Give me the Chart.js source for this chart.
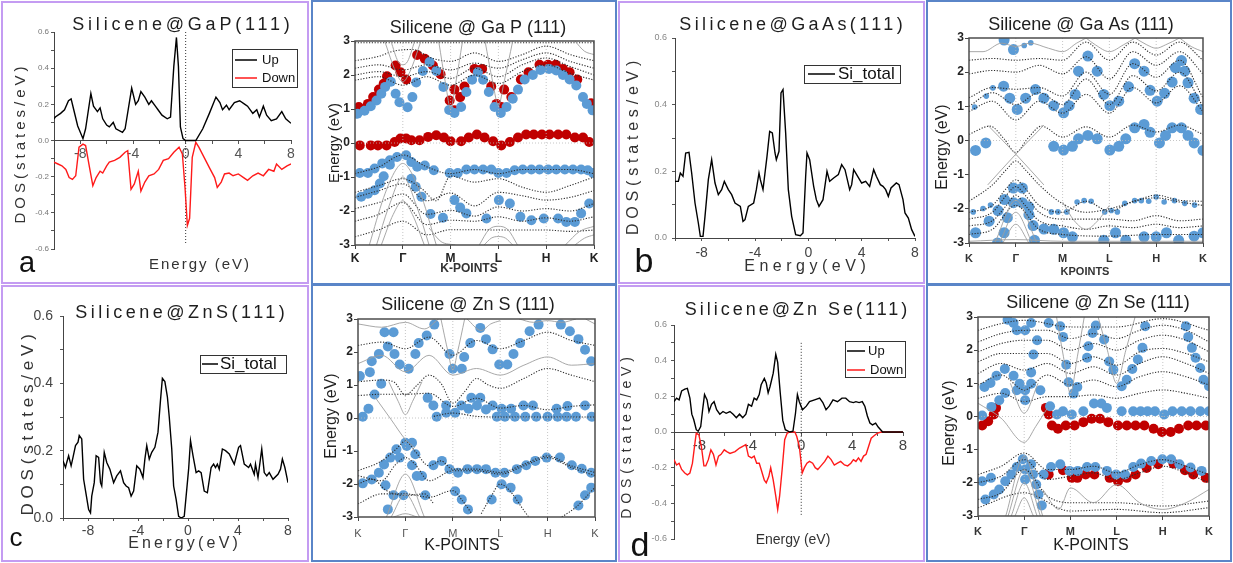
<!DOCTYPE html>
<html>
<head>
<meta charset="utf-8">
<title>Silicene DOS and band structures</title>
<script src="https://cdn.jsdelivr.net/npm/chart.js@4.4.1/dist/chart.umd.min.js"></script>
<style>
  html, body { margin: 0; padding: 0; background: #fff; }
  body { position: relative; width: 1233px; height: 563px; overflow: hidden; }
  .pan { position: absolute; box-sizing: border-box; border: 2px solid #c49cf2; }
  .pan.blu { border-color: #5a85c8; }
  canvas { position: absolute; }
</style>
</head>
<body>
<script>
const FONT = '"Liberation Sans", Arial, Helvetica, sans-serif';
const BLUE = '#5b9bd5', RED = '#c00000';
const kLabels = ['K', 'Γ', 'M', 'L', 'H', 'K'];
const symK = [1, 2, 3, 4];

// ---- DOS curves [energy, states/eV] ----
const gapUp = [[-10,0.12],[-9.9,0.13],[-9.5,0.15],[-9.2,0.17],[-8.9,0.22],[-8.7,0.23],[-8.5,0.17],[-8.2,0.08],[-7.8,0.01],[-7.6,0.065],[-7.2,0.26],[-7.0,0.19],[-6.7,0.16],[-6.5,0.18],[-6.3,0.12],[-6.0,0.085],[-5.8,0.075],[-5.5,0.10],[-5.3,0.065],[-4.8,0.045],[-4.6,0.065],[-4.1,0.29],[-3.8,0.20],[-3.6,0.22],[-3.4,0.27],[-3.1,0.24],[-2.8,0.20],[-2.6,0.22],[-2.3,0.19],[-2.1,0.17],[-1.8,0.14],[-1.4,0.12],[-1.15,0.13],[-0.9,0.41],[-0.7,0.57],[-0.55,0.41],[-0.4,0.075],[-0.2,0.01],[0,0],[0.77,0],[1.3,0.065],[1.8,0.15],[2.3,0.24],[2.6,0.21],[2.8,0.17],[3.1,0.195],[3.3,0.17],[3.7,0.21],[4.1,0.22],[4.5,0.20],[4.7,0.19],[5.1,0.15],[5.4,0.17],[5.6,0.13],[5.9,0.19],[6.15,0.14],[6.5,0.11],[6.9,0.12],[7.3,0.16],[7.6,0.12],[8.0,0.095]];
const gapDown = [[-10,-0.12],[-9.7,-0.13],[-9.4,-0.14],[-9.1,-0.16],[-8.85,-0.205],[-8.6,-0.215],[-8.35,-0.195],[-8.1,-0.037],[-7.8,-0.02],[-7.6,-0.028],[-7.3,-0.15],[-7.05,-0.25],[-6.8,-0.205],[-6.5,-0.17],[-6.3,-0.18],[-6.0,-0.14],[-5.8,-0.12],[-5.4,-0.11],[-5.0,-0.093],[-4.6,-0.065],[-4.4,-0.056],[-4.15,-0.27],[-3.9,-0.24],[-3.6,-0.17],[-3.4,-0.28],[-3.1,-0.23],[-2.8,-0.195],[-2.4,-0.185],[-2.05,-0.16],[-1.7,-0.11],[-1.3,-0.10],[-0.9,-0.065],[-0.5,-0.037],[-0.25,-0.075],[-0.05,-0.26],[0.13,-0.47],[0.3,-0.43],[0.5,-0.093],[0.77,-0.01],[1.0,-0.037],[1.4,-0.093],[1.8,-0.15],[2.2,-0.205],[2.4,-0.26],[2.7,-0.23],[2.95,-0.185],[3.3,-0.18],[3.6,-0.195],[4.0,-0.185],[4.4,-0.205],[4.7,-0.22],[5.1,-0.195],[5.5,-0.18],[5.9,-0.195],[6.3,-0.16],[6.7,-0.17],[6.9,-0.13],[7.3,-0.16],[7.7,-0.14],[8.0,-0.13]];
const gapFermi = [[0,0.6],[0,-0.57]];

const gasTotal = [[-10,0.17],[-9.75,0.17],[-9.6,0.195],[-9.4,0.185],[-9.2,0.255],[-8.95,0.257],[-8.75,0.195],[-8.5,0.105],[-8.25,0.045],[-8.1,0.005],[-7.9,0.005],[-7.75,0.065],[-7.5,0.175],[-7.25,0.235],[-7.0,0.165],[-6.75,0.13],[-6.5,0.145],[-6.3,0.17],[-6.0,0.145],[-5.75,0.13],[-5.5,0.105],[-5.1,0.095],[-4.9,0.05],[-4.75,0.055],[-4.5,0.095],[-4.1,0.105],[-3.9,0.145],[-3.7,0.195],[-3.6,0.175],[-3.4,0.145],[-3.1,0.245],[-2.9,0.32],[-2.7,0.315],[-2.5,0.255],[-2.4,0.235],[-2.2,0.26],[-2.05,0.435],[-1.9,0.445],[-1.7,0.315],[-1.5,0.145],[-1.25,0.065],[-0.95,0.01],[-0.6,0.007],[-0.4,0.015],[-0.2,0.185],[-0.1,0.255],[0.1,0.235],[0.4,0.155],[0.6,0.115],[0.8,0.095],[1.1,0.115],[1.4,0.2],[1.6,0.17],[1.9,0.18],[2.25,0.19],[2.5,0.22],[2.75,0.205],[3.1,0.145],[3.25,0.16],[3.4,0.205],[3.7,0.185],[4.0,0.165],[4.3,0.17],[4.6,0.155],[4.9,0.205],[5.1,0.185],[5.4,0.16],[5.6,0.155],[5.8,0.145],[6.0,0.125],[6.2,0.15],[6.6,0.165],[6.8,0.16],[7.1,0.115],[7.25,0.075],[7.5,0.06],[7.75,0.025],[8.0,0.005]];

const znsTotal = [[-10,0.17],[-9.8,0.15],[-9.7,0.165],[-9.55,0.185],[-9.35,0.155],[-9.2,0.18],[-9.0,0.215],[-8.8,0.225],[-8.7,0.245],[-8.5,0.235],[-8.35,0.115],[-8.15,0.07],[-7.95,0.025],[-7.8,0.015],[-7.7,0.065],[-7.5,0.105],[-7.35,0.185],[-7.15,0.18],[-7.0,0.105],[-6.9,0.095],[-6.7,0.195],[-6.5,0.165],[-6.25,0.145],[-5.95,0.105],[-5.7,0.125],[-5.4,0.14],[-5.15,0.105],[-4.95,0.095],[-4.75,0.09],[-4.55,0.065],[-4.35,0.08],[-4.1,0.155],[-3.85,0.145],[-3.6,0.12],[-3.45,0.175],[-3.3,0.215],[-3.1,0.175],[-2.9,0.195],[-2.65,0.21],[-2.4,0.255],[-2.2,0.35],[-2.05,0.415],[-1.85,0.405],[-1.65,0.36],[-1.5,0.30],[-1.3,0.205],[-1.15,0.095],[-0.95,0.055],[-0.75,0.005],[-0.55,0.0],[-0.3,0.005],[-0.1,0.085],[0.05,0.145],[0.2,0.23],[0.4,0.185],[0.65,0.135],[0.85,0.14],[1.05,0.135],[1.3,0.08],[1.55,0.075],[1.85,0.15],[2.05,0.16],[2.2,0.15],[2.35,0.16],[2.5,0.145],[2.75,0.205],[3.0,0.20],[3.3,0.19],[3.5,0.175],[3.7,0.16],[4.05,0.21],[4.2,0.215],[4.5,0.16],[4.85,0.15],[5.0,0.16],[5.3,0.13],[5.4,0.16],[5.6,0.12],[5.9,0.205],[6.1,0.135],[6.3,0.125],[6.5,0.135],[6.8,0.115],[7.2,0.13],[7.4,0.145],[7.55,0.175],[7.75,0.15],[8.0,0.105]];

const zseUp = [[-10,0.17],[-9.8,0.19],[-9.6,0.18],[-9.4,0.23],[-9.15,0.24],[-8.95,0.245],[-8.75,0.19],[-8.6,0.10],[-8.45,0.07],[-8.25,0.013],[-8.1,0.004],[-7.9,0.03],[-7.75,0.125],[-7.6,0.21],[-7.4,0.18],[-7.25,0.115],[-7.05,0.155],[-6.85,0.17],[-6.65,0.125],[-6.4,0.10],[-6.15,0.115],[-5.9,0.105],[-5.6,0.115],[-5.35,0.10],[-5.1,0.08],[-4.85,0.10],[-4.6,0.08],[-4.35,0.10],[-4.15,0.155],[-3.9,0.145],[-3.7,0.19],[-3.5,0.18],[-3.3,0.21],[-3.15,0.265],[-2.9,0.30],[-2.75,0.275],[-2.6,0.22],[-2.45,0.255],[-2.2,0.33],[-2.0,0.435],[-1.85,0.39],[-1.65,0.22],[-1.45,0.065],[-1.25,0.013],[-0.9,0],[-0.65,0.004],[-0.45,0.105],[-0.3,0.21],[-0.15,0.17],[0.1,0.125],[0.4,0.145],[0.65,0.17],[1.05,0.18],[1.45,0.19],[1.7,0.165],[1.95,0.125],[2.2,0.145],[2.5,0.18],[2.85,0.17],[3.2,0.19],[3.5,0.19],[3.8,0.17],[4.1,0.165],[4.3,0.17],[4.55,0.165],[4.8,0.17],[5.0,0.145],[5.2,0.09],[5.4,0.05],[5.6,0.04],[5.85,0.05],[6.05,0.028],[6.4,0],[8.0,0]];
const zseDown = [[-10,-0.155],[-9.8,-0.185],[-9.6,-0.175],[-9.4,-0.21],[-9.15,-0.23],[-8.95,-0.24],[-8.75,-0.23],[-8.55,-0.175],[-8.35,-0.06],[-8.25,-0.006],[-8.05,-0.015],[-7.85,-0.08],[-7.65,-0.19],[-7.5,-0.19],[-7.3,-0.155],[-7.1,-0.10],[-6.9,-0.125],[-6.7,-0.185],[-6.5,-0.135],[-6.3,-0.125],[-6.05,-0.10],[-5.85,-0.11],[-5.6,-0.12],[-5.2,-0.11],[-4.85,-0.09],[-4.6,-0.08],[-4.35,-0.07],[-4.15,-0.135],[-3.9,-0.145],[-3.7,-0.135],[-3.5,-0.175],[-3.3,-0.175],[-3.15,-0.21],[-2.9,-0.27],[-2.75,-0.285],[-2.55,-0.25],[-2.4,-0.20],[-2.2,-0.27],[-2.0,-0.36],[-1.85,-0.435],[-1.7,-0.36],[-1.5,-0.21],[-1.3,-0.043],[-1.1,-0.006],[-0.9,0],[-0.5,0],[-0.35,-0.025],[-0.15,-0.08],[0.08,-0.23],[0.25,-0.20],[0.45,-0.175],[0.65,-0.165],[0.9,-0.175],[1.1,-0.20],[1.3,-0.21],[1.55,-0.19],[1.85,-0.165],[2.1,-0.135],[2.35,-0.155],[2.6,-0.185],[2.85,-0.175],[3.1,-0.165],[3.4,-0.185],[3.65,-0.19],[3.9,-0.175],[4.1,-0.155],[4.3,-0.165],[4.5,-0.145],[4.7,-0.165],[4.9,-0.135],[5.1,-0.125],[5.3,-0.08],[5.5,-0.035],[5.75,-0.02],[6.0,-0.006],[6.3,0],[8.0,0]];
const zseFermi = [[0,0.5],[0,-0.47]];

// ---- band structures [k-path position, energy eV] ----
const gapGray = [
  [[0.3,-3],[0.6,-1.6],[0.85,-0.8],[1,-0.6],[1.15,-0.8],[1.4,-1.6],[1.7,-3]],
  [[0.45,-3],[0.7,-1.9],[1,-1.0],[1.3,-1.9],[1.55,-3]],
  [[0.55,-3],[0.8,-2.1],[1,-1.7],[1.2,-2.1],[1.45,-3]],
  [[0.62,3],[0.85,2.1],[1,1.8],[1.15,2.1],[1.38,3]],
  [[0.75,3],[0.9,2.4],[1,2.3],[1.1,2.4],[1.25,3]],
  [[1.75,3],[1.9,1.7],[2,1.0],[2.1,1.7],[2.25,3]],
  [[2.72,3],[2.88,1.8],[3,1.1],[3.12,1.8],[3.3,3]],
  [[4.6,3],[4.8,2.7],[5,2.6]],
  [[1.55,-2.5],[1.8,-2.9],[2.1,-3]],
  [[2.6,-3],[2.8,-2.55],[3,-2.45],[3.2,-2.55],[3.4,-3]],
  [[2.7,-3],[2.85,-2.8],[3,-2.75],[3.15,-2.8],[3.3,-3]],
  [[4.4,-3],[4.7,-2.6],[5,-2.45]],
  [[4.6,-3],[4.8,-2.8],[5,-2.7]]
];
const gapDot = [
  [[0,2.95],[1,2.95],[2,2.95],[3,2.95],[4,2.95],[5,2.95]],
  [[0,2.42],[0.5,2.55],[0.8,2.7],[1.2,2.75],[1.6,2.5],[2,2.4],[2.5,2.65],[3,2.4],[3.5,2.6],[4,2.85],[4.5,2.6],[5,2.42]],
  [[0,2.2],[0.5,2.3],[1,2.15],[1.5,2.3],[2,2.15],[2.5,2.35],[3,2.2],[3.5,2.45],[4,2.65],[4.5,2.4],[5,2.2]],
  [[0,2.0],[0.5,2.1],[1,1.95],[1.5,2.1],[2,1.9],[2.5,2.2],[3,1.95],[3.5,2.3],[4,2.5],[4.5,2.25],[5,2.0]],
  [[0,1.85],[0.5,1.95],[1,1.7],[1.5,1.95],[2,1.7],[2.5,2.0],[3,1.75],[3.5,2.1],[4,2.3],[4.5,2.05],[5,1.85]],
  [[0,-0.9],[0.5,-0.7],[1,-0.35],[1.5,-0.7],[2,-0.9],[2.5,-0.78],[3,-0.9],[3.5,-0.78],[4,-0.78],[4.5,-0.78],[5,-0.9]],
  [[0,-1.45],[0.5,-1.25],[1,-1.05],[1.4,-1.35],[1.7,-1.7],[2,-0.97],[2.5,-1.15],[3,-1.05],[3.5,-1.3],[4,-1.45],[4.5,-1.25],[5,-1.0]],
  [[0,-1.6],[0.5,-1.4],[1,-1.2],[1.5,-1.7],[2,-1.47],[2.5,-1.85],[3,-1.45],[3.5,-1.55],[4,-1.68],[4.5,-1.6],[5,-1.4]],
  [[0,-1.93],[0.5,-1.75],[1,-1.5],[1.5,-2.1],[2,-1.98],[2.5,-2.15],[3,-1.88],[3.5,-2.0],[4,-1.93],[4.5,-2.0],[5,-1.78]],
  [[0,-2.3],[0.5,-2.1],[1,-1.75],[1.5,-2.4],[2,-2.27],[2.5,-2.3],[3,-2.17],[3.5,-2.3],[4,-2.2],[4.5,-2.3],[5,-2.17]],
  [[0,-2.76],[0.5,-2.55],[1,-2.3],[1.5,-2.7],[2,-2.55],[2.5,-2.55],[3,-2.56],[3.5,-2.56],[4,-2.56],[4.5,-2.6],[5,-2.56]]
];
const gapBlue = [[0.05,0.86],[0.2,0.95],[0.33,1.08],[0.45,1.25],[0.55,1.45],[0.63,1.65],[0.75,1.8],[0.85,1.45],[0.93,1.2],[1.1,1.05],[1.2,1.35],[1.28,1.78],[1.42,2.12],[1.56,2.38],[1.7,2.12],[1.85,1.65],[1.97,0.97],[2.08,0.88],[2.22,1.06],[2.33,1.5],[2.45,1.86],[2.57,2.08],[2.68,1.86],[2.8,1.5],[2.92,1.06],[3.05,0.88],[3.17,1.06],[3.3,1.3],[3.41,1.57],[3.55,1.87],[3.72,2.0],[3.88,2.15],[4.06,2.18],[4.21,2.13],[4.35,2.0],[4.49,1.87],[4.63,1.69],[4.77,1.35],[4.85,1.15],[4.97,0.96],
  [0.1,-0.88],[0.27,-0.88],[0.41,-0.75],[0.57,-0.6],[0.73,-0.51],[0.88,-0.41],[1.07,-0.36],[1.18,-0.56],[1.3,-0.7],[1.46,-0.66],[1.65,-0.8],[1.98,-0.88],[2.15,-0.88],[2.33,-0.78],[2.5,-0.78],[2.68,-0.78],[2.85,-0.78],[3.0,-0.88],[3.17,-0.88],[3.34,-0.8],[3.51,-0.78],[3.69,-0.78],[3.86,-0.78],[4.04,-0.78],[4.21,-0.78],[4.39,-0.78],[4.56,-0.78],[4.73,-0.78],[4.87,-0.8],[4.98,-0.88],
  [0.13,-1.58],[0.27,-1.49],[0.41,-1.39],[0.52,-1.19],[0.6,-0.98],[0.73,-0.64],[1.18,-1.05],[1.27,-1.29],[1.39,-1.58],[1.58,-2.09],[1.84,-2.2],[2.08,-1.68],[2.2,-1.9],[2.33,-2.07],[2.75,-2.22],[3.01,-1.68],[3.24,-1.78],[3.46,-2.17],[3.69,-2.27],[3.95,-2.22],[4.25,-2.22],[4.42,-2.32],[4.6,-2.32],[4.73,-2.07],[4.9,-1.78]];
const gapRed = [[0.08,1.06],[0.27,1.15],[0.38,1.35],[0.5,1.57],[0.6,1.74],[0.67,1.96],[0.85,2.28],[0.95,2.08],[1.07,1.87],[1.3,2.59],[1.46,2.48],[1.63,2.28],[1.79,2.02],[1.98,1.25],[2.08,0.96],[2.08,1.57],[2.2,1.35],[2.29,1.66],[2.5,2.18],[2.66,2.18],[2.85,1.66],[2.96,1.15],[3.06,1.06],[3.12,1.57],[3.27,1.35],[3.47,1.87],[3.63,2.08],[3.86,2.3],[4.04,2.3],[4.2,2.3],[4.35,2.18],[4.49,2.08],[4.65,1.87],[4.94,1.17],
  [0.1,-0.07],[0.33,-0.07],[0.48,-0.07],[0.66,-0.07],[0.83,0.03],[0.95,0.13],[1.07,0.13],[1.18,0.08],[1.35,0.08],[1.53,0.18],[1.7,0.23],[1.86,0.16],[2.0,0.05],[2.22,0.05],[2.38,0.16],[2.55,0.25],[2.71,0.16],[2.89,0.05],[3.06,-0.07],[3.24,0.03],[3.41,0.16],[3.58,0.25],[3.74,0.25],[3.91,0.25],[4.07,0.25],[4.25,0.25],[4.42,0.25],[4.6,0.16],[4.77,0.16],[4.9,0.03]];

const gasGray = [
  [[0.4,0.45],[1,-0.4],[1.6,-1.3]],
  [[0.4,-1.3],[1,-0.4],[1.6,0.45]],
  [[0.55,-3],[1,-1.75],[1.45,-3]],
  [[0.65,-3],[1,-2.1],[1.35,-3]],
  [[0.72,-3],[1,-2.45],[1.28,-3]],
  [[0,2.6],[0.3,2.6],[0.7,2.85],[1,2.75],[1.3,2.85],[1.7,2.7],[2,2.6],[2.3,2.85],[2.5,3.0]],
  [[2.5,3],[2.7,2.8],[3,2.6],[3.3,2.8],[3.55,3.0]],
  [[3.55,3],[3.8,2.8],[4,2.7],[4.2,2.8],[4.5,3]],
  [[4.5,3],[4.75,2.75],[5,2.6]],
  [[2,-1.8],[2.25,-2.35],[2.5,-2.6],[2.75,-2.35],[3,-1.9]],
  [[0,-2.95],[1,-2.9],[2,-2.95],[3,-2.95],[4,-2.95],[5,-2.95]]
];
const gasDot = [
  [[0,0.18],[0.45,0.42],[0.75,0.05],[1,-0.35],[1.25,0.05],[1.55,0.42],[2,0.1],[2.5,0.4],[3,0.1],[3.5,0.45],[4,0.25],[4.5,0.45],[5,0.18]],
  [[0,0.85],[0.5,1.15],[1,0.6],[1.5,1.15],[2,0.8],[2.5,1.35],[3,0.8],[3.5,1.55],[4,1.1],[4.5,1.6],[5,0.85]],
  [[0,1.0],[0.5,1.4],[1,1.05],[1.5,1.4],[2,1.05],[2.5,1.8],[3,1.05],[3.5,1.9],[4,1.45],[4.5,2.0],[5,1.0]],
  [[0,1.25],[0.5,1.55],[1,1.5],[1.5,1.55],[2,1.3],[2.5,2.0],[3,1.35],[3.5,2.25],[4,1.85],[4.5,2.35],[5,1.25]],
  [[0,1.95],[0.5,2.05],[1,2.0],[1.5,2.2],[2,1.95],[2.5,2.45],[3,1.8],[3.5,2.6],[4,2.2],[4.5,2.6],[5,1.95]],
  [[0,2.35],[0.5,2.4],[1,2.35],[1.5,2.4],[2,2.35],[2.5,2.88],[3,2.35],[3.5,2.88],[4,2.5],[4.5,2.88],[5,2.35]],
  [[0,-1.78],[0.5,-1.3],[0.8,-0.85],[1,-0.6],[1.2,-0.85],[1.5,-1.3],[2,-1.85],[2.5,-2.1],[3,-2.0],[3.5,-1.8],[4,-1.6],[4.5,-1.75],[5,-1.78]],
  [[0,-2.1],[0.5,-1.9],[0.8,-1.4],[1,-1.15],[1.2,-1.4],[1.5,-1.9],[2,-2.1],[2.5,-1.78],[3,-2.07],[3.5,-1.78],[4,-1.68],[4.5,-1.8],[5,-1.9]],
  [[0,-2.3],[0.5,-2.1],[0.8,-1.6],[1,-1.35],[1.2,-1.6],[1.5,-2.1],[2,-2.3],[2.5,-2.3],[3,-2.3],[3.5,-2.35],[4,-2.2],[4.5,-2.35],[5,-2.3]],
  [[0,-2.5],[0.5,-2.35],[0.8,-1.9],[1,-1.6],[1.2,-1.9],[1.5,-2.35],[2,-2.5],[2.5,-2.6],[3,-2.5],[3.5,-2.55],[4,-2.45],[4.5,-2.55],[5,-2.5]],
  [[0,-2.75],[0.5,-2.6],[1,-1.9],[1.5,-2.6],[2,-2.75],[3,-2.8],[4,-2.75],[5,-2.75]]
];
const gasBlue = [[0.14,-0.29],[0.36,-0.07],[0.74,1.59],[0.87,1.24],[1.03,0.91],[1.21,1.24],[1.42,1.49],[1.6,1.24],[1.81,1.02],[2.02,0.81],[2.14,1.02],[2.27,1.35],[2.34,2.03],[2.54,2.47],[2.74,2.03],[2.88,1.35],[3.01,1.02],[3.2,1.15],[3.41,1.57],[3.54,2.25],[3.74,2.03],[3.87,1.47],[4.02,1.15],[4.18,1.38],[4.34,1.71],[4.41,2.13],[4.54,2.34],[4.61,2.03],[4.68,1.69],[4.81,1.24],[4.95,0.91],
  [1.81,-0.17],[2.02,-0.28],[2.21,-0.17],[2.34,0.05],[2.54,0.15],[2.74,0.05],[3.01,-0.28],[3.2,-0.17],[3.35,0.05],[3.54,0.37],[3.74,0.47],[3.87,0.24],[4.07,-0.07],[4.2,0.15],[4.34,0.37],[4.54,0.37],[4.68,0.15],[4.81,-0.07],[5.0,-0.29],
  [0.95,-1.39],[1.14,-1.39],[0.76,-1.73],[0.95,-1.82],[1.14,-1.82],[1.28,-1.94],[0.62,-2.05],[0.82,-2.26],[1.28,-2.17],[0.43,-2.36],[1.37,-2.49],[0.14,-2.7],[0.75,-2.7],[0.61,-3.0],[1.4,-2.92],[1.6,-2.59],[1.81,-2.6],[2.02,-2.7],[2.21,-2.82],[2.88,-2.92],[3.13,-2.7],[3.35,-2.92],[3.74,-2.82],[4.0,-2.82],[4.22,-2.7],[4.48,-2.92],[4.81,-2.8],[5.0,-2.7],
  [0.95,2.66],[0.75,2.94]];
const gasBlueSmall = [[0.12,0.98],[0.37,1.3],[0.51,1.54],[1.18,2.78],[1.32,2.86],[0.09,-2.09],[0.3,-1.99],[0.46,-1.89],[1.76,-2.09],[1.9,-2.09],[2.09,-2.09],[2.31,-1.8],[2.46,-1.76],[2.61,-1.78],[2.9,-2.09],[3.04,-2.05],[3.17,-2.09],[3.33,-1.84],[3.54,-1.76],[3.68,-1.76],[3.84,-1.78],[4.0,-1.65],[4.17,-1.8],[4.39,-1.76],[4.61,-1.84],[4.82,-1.89]];

const znsGray = [
  [[0.35,0.65],[0.7,-0.05],[1,-0.65],[1.2,-0.9]],
  [[0.65,1.1],[0.85,0.5],[1,0.1],[1.15,0.5],[1.35,1.1]],
  [[0,1.65],[0.5,1.9],[1,1.4],[1.5,1.9],[2,1.3],[2.5,1.5],[3,1.3],[3.5,1.6],[4,1.85],[4.5,1.6],[5,1.65]],
  [[0,2.85],[0.5,2.75],[1,2.9],[1.4,2.7],[1.7,3]],
  [[2.3,3],[2.6,2.65],[2.8,2.85],[3,2.95]],
  [[3.4,3],[3.7,2.9],[4,2.95],[4.3,2.9],[4.6,3]],
  [[4.8,3],[5,2.85]],
  [[1.75,3],[1.9,2.0],[2,1.45],[2.1,2.0],[2.25,3]],
  [[0.6,-3],[1,-1.7],[1.4,-3]],
  [[0.7,-3],[1,-2.3],[1.3,-3]],
  [[0.75,-3],[1,-2.9],[1.25,-3]]
];
const znsDot = [
  [[0,1.1],[0.5,1.15],[0.75,1.1],[1,0.7],[1.25,1.0],[1.5,1.3],[1.75,1.05],[2,0.45],[2.25,0.8],[2.5,1.2],[2.75,1.0],[3,0.9],[3.5,1.2],[4,1.5],[4.5,1.3],[5,1.1]],
  [[0,0.68],[0.5,0.72],[1,0.72],[1.5,0.75],[2,0.35],[2.5,0.6],[3,0.3],[3.5,0.38],[4,0.25],[4.5,0.35],[5,0.4]],
  [[1.6,0.05],[2,0.15],[2.5,0.05],[3,0.03],[3.5,0.03],[4,0.03],[4.5,0.03],[5,0.03]],
  [[0,2.2],[0.5,2.3],[1,2.1],[1.5,2.45],[2,1.9],[2.5,2.35],[3,2.1],[3.5,2.35],[4,2.6],[4.5,2.35],[5,2.2]],
  [[0,-1.6],[0.5,-1.3],[0.8,-0.95],[1,-0.7],[1.2,-1.0],[1.5,-1.45],[1.75,-1.3],[2,-1.55],[2.5,-1.55],[3,-1.65],[3.5,-1.4],[4,-1.15],[4.5,-1.45],[5,-1.65]],
  [[0,-1.75],[0.5,-1.9],[0.8,-1.4],[1,-1.2],[1.2,-1.4],[1.5,-1.9],[2,-1.6],[2.5,-1.6],[3,-1.7],[3.5,-1.45],[4,-1.2],[4.5,-1.5],[5,-1.75]],
  [[0,-2.6],[0.5,-2.3],[1,-2.3],[1.5,-2.4],[2,-2.2],[2.2,-2.5],[2.4,-2.9]],
  [[2.6,-2.9],[2.8,-2.4],[3,-2.0],[3.2,-2.2],[3.45,-2.7],[3.6,-3]],
  [[4.3,-3],[4.6,-2.7],[5,-2.1]],
  [[0,-2.0],[0.3,-1.85],[0.6,-2.2],[1,-2.35],[1.4,-2.3],[1.6,-2.6]]
];
const znsBlue = [[0.04,1.27],[0.25,1.39],[0.29,1.72],[0.44,1.94],[0.56,2.6],[0.63,2.17],[0.75,2.6],[0.77,1.94],[0.88,1.62],[1.07,1.49],[1.21,1.94],[1.28,2.27],[1.45,2.5],[1.61,2.83],[1.93,1.94],[2.0,1.49],[2.19,1.49],[2.24,1.85],[2.37,2.27],[2.58,2.73],[2.7,2.39],[2.84,2.08],[2.98,1.62],[3.15,1.62],[3.28,1.94],[3.42,2.27],[3.62,2.63],[3.81,2.83],[4.28,2.83],[4.47,2.63],[4.65,2.39],[4.79,2.07],[4.92,1.72],
  [0.1,0.04],[0.22,0.28],[0.35,0.71],[0.49,1.04],[1.47,0.61],[1.59,0.38],[1.66,0.04],[1.86,0.38],[1.86,0.16],[2.05,0.16],[2.18,0.38],[2.33,0.28],[2.39,0.61],[2.51,0.38],[2.58,0.61],[2.7,0.26],[2.84,0.38],[2.93,0.04],[3.03,0.28],[3.1,0.04],[3.23,0.28],[3.31,0.04],[3.49,0.38],[3.53,0.04],[3.69,0.38],[3.76,0.04],[4.0,0.04],[4.19,0.28],[4.21,0.04],[4.4,0.04],[4.42,0.36],[4.6,0.04],[4.79,0.38],[4.93,0.04],
  [0.1,-1.98],[0.29,-1.86],[0.44,-1.66],[0.55,-1.41],[0.68,-1.2],[0.81,-0.95],[0.88,-1.2],[1.0,-0.75],[1.03,-0.85],[1.14,-0.75],[1.21,-1.1],[1.14,-1.43],[1.24,-1.76],[1.35,-1.76],[1.59,-1.43],[1.77,-1.3],[1.93,-1.55],[2.11,-1.66],[2.31,-1.55],[2.51,-1.55],[2.7,-1.55],[2.9,-1.66],[3.09,-1.66],[3.35,-1.55],[3.55,-1.43],[3.74,-1.3],[3.98,-1.2],[4.26,-1.2],[4.51,-1.43],[4.72,-1.54],[4.92,-1.66],
  [0.58,-2.04],[0.75,-2.34],[0.96,-2.34],[0.63,-2.77],[1.42,-2.34],[2.05,-2.22],[2.19,-2.47],[2.32,-2.77],[2.82,-2.47],[3.03,-2.01],[3.22,-2.11],[3.37,-2.47],[4.65,-2.65],[4.79,-2.34],[4.92,-2.11]];

const zseGray = [
  [[0,0.4],[0.5,-0.05],[1,-0.78],[1.25,-0.3],[1.5,0.25]],
  [[0.7,1.0],[1,0.1],[1.3,1.0]],
  [[0.6,-3],[1,-1.2],[1.4,-3]],
  [[0.65,-3],[1,-1.6],[1.35,-3]],
  [[0.72,-3],[1,-2.0],[1.28,-3]],
  [[0.8,-3],[1,-2.45],[1.2,-3]],
  [[1.4,-2.2],[1.75,-2.8],[2,-2.15],[2.5,-2.6],[3,-2.05],[3.5,-2.6],[4,-2.8],[4.5,-2.6],[5,-2.2]],
  [[1.7,3],[1.85,1.8],[2,0.7],[2.15,1.8],[2.3,3]],
  [[2.6,3],[2.8,2.0],[3,1.0],[3.2,2.0],[3.4,3]]
];
const zseDot = [
  [[0,0.55],[0.5,0.7],[1,0.45],[1.5,0.6],[2,0.6],[2.5,0.65],[3,0.55],[3.5,0.7],[4,0.8],[4.5,0.7],[5,0.55]],
  [[0,0.95],[0.5,1.25],[1,0.8],[1.5,1.25],[2,0.95],[2.5,1.1],[3,0.9],[3.5,1.2],[4,1.35],[4.5,1.2],[5,0.95]],
  [[0,1.3],[0.5,1.6],[1,1.4],[1.5,1.6],[2,1.3],[2.5,1.5],[3,1.25],[3.5,1.6],[4,1.8],[4.5,1.6],[5,1.3]],
  [[0,1.65],[0.5,1.9],[1,1.9],[1.5,1.9],[2,1.6],[2.5,1.8],[3,1.55],[3.5,1.95],[4,2.05],[4.5,1.9],[5,1.65]],
  [[0,1.95],[0.5,2.2],[1,2.3],[1.5,2.3],[2,2.0],[2.5,2.2],[3,2.0],[3.5,2.3],[4,2.45],[4.5,2.3],[5,1.95]],
  [[0,2.25],[0.5,2.5],[1,2.6],[1.5,2.6],[2,2.35],[2.5,2.5],[3,2.35],[3.5,2.6],[4,2.75],[4.5,2.6],[5,2.25]],
  [[0,2.6],[0.5,2.8],[1,2.9],[2,2.7],[3,2.7],[4,2.95],[5,2.6]],
  [[0,-1.75],[0.5,-1.5],[1,-1.1],[1.5,-1.6],[2,-1.6],[2.5,-1.5],[3,-1.7],[3.5,-1.45],[4,-1.3],[4.5,-1.5],[5,-1.75]],
  [[0,-2.0],[0.5,-1.8],[1,-1.3],[1.5,-1.9],[2,-1.8],[2.5,-1.7],[3,-1.9],[3.5,-1.7],[4,-1.5],[4.5,-1.7],[5,-2.0]],
  [[0,-2.5],[0.5,-2.3],[1,-1.6],[1.5,-2.4],[2,-2.6],[3,-2.6],[4,-2.7],[5,-2.55]],
  [[0,-2.75],[1,-2.3],[2,-2.85],[3,-2.8],[4,-2.9],[5,-2.75]]
];
const zseBlue = [[0.09,0.03],[0.14,0.89],[0.27,1.01],[0.29,0.29],[0.4,1.23],[0.46,0.49],[0.58,1.43],[0.59,0.71],[0.64,2.92],[0.77,1.23],[0.77,2.82],[0.84,2.6],[0.9,0.99],[0.84,0.79],[1.02,2.6],[1.02,0.49],[1.02,0.79],[1.15,2.82],[1.15,0.99],[1.15,1.33],[1.2,1.87],[1.28,2.3],[1.35,0.79],[1.53,2.82],[1.56,0.31],[1.71,0.06],[1.78,2.72],[1.84,2.4],[1.84,0.16],[1.91,1.56],[1.96,1.03],[2.07,0.69],[2.03,0.06],[2.15,0.89],[2.28,0.16],[2.36,1.77],[2.39,2.12],[2.48,2.52],[2.51,0.39],[2.55,2.74],[2.67,0.39],[2.73,2.32],[2.79,0.26],[2.84,1.66],[2.93,1.41],[3.11,0.16],[3.11,0.91],[3.22,1.11],[3.34,1.43],[3.36,0.16],[3.46,1.72],[3.52,0.16],[3.56,2.07],[3.62,2.72],[3.67,0.16],[3.83,0.16],[4.03,0.06],[4.21,0.16],[4.41,0.16],[4.5,2.72],[4.55,2.4],[4.6,0.16],[4.63,2.07],[4.71,1.77],[4.81,1.46],[4.81,0.16],[4.88,1.11],[5.0,0.16],[5.0,0.91],
  [0.09,-1.95],[0.28,-1.85],[0.16,-2.5],[0.34,-2.35],[0.46,-2.2],[0.59,-1.95],[0.72,-1.75],[0.84,-1.52],[0.97,-1.29],[1.02,-1.6],[1.02,-1.9],[1.15,-1.44],[1.19,-1.75],[1.26,-2.05],[1.31,-2.35],[1.38,-2.68],[1.42,-1.75],[1.58,-1.52],[1.78,-1.44],[1.98,-1.64],[2.16,-1.64],[2.36,-1.52],[2.54,-1.52],[2.79,-1.64],[2.99,-1.75],[3.18,-1.75],[3.36,-1.52],[3.53,-1.42],[3.75,-1.34],[3.99,-1.29],[4.18,-1.29],[4.36,-1.44],[4.6,-1.54],[4.84,-1.64]];
const zseRed = [[0.09,-0.27],[0.22,-0.14],[0.34,0.06],[0.39,0.26],[1.47,0.26],[1.53,0.06],[1.6,-0.27],[1.73,-0.37],[1.9,-0.27],[2.09,-0.27],[2.28,-0.17],[2.46,-0.07],[2.64,-0.07],[2.82,-0.17],[3.03,-0.27],[3.22,-0.27],[3.41,-0.27],[3.6,-0.27],[3.8,-0.37],[3.98,-0.47],[4.17,-0.47],[4.35,-0.37],[4.55,-0.27],[4.73,-0.27],[4.93,-0.27],
  [1.53,-1.75],[1.84,-1.62],[2.03,-1.85],[2.15,-1.85],[2.33,-1.75],[2.52,-1.75],[2.85,-1.85],[3.03,-1.95],[3.22,-1.85],[3.41,-1.75],[3.65,-1.55],[3.9,-1.44],[4.23,-1.42],[4.48,-1.62],[4.66,-1.75],[4.93,-1.85]];

// ---- helpers ----
Chart.defaults.font.family = FONT;
const YW = 40, XH = 28;

// texts, legend box and plot frame
const deco = {
  id: 'deco',
  afterDraw(chart, args, o) {
    const ctx = chart.ctx, a = chart.chartArea;
    const ox = o.ox || 0, oy = o.oy || 0;
    ctx.save();
    if (o.frame) {
      ctx.strokeStyle = '#4d4d4d';
      ctx.lineWidth = 1.5;
      ctx.strokeRect(a.left, a.top, a.right - a.left, a.bottom - a.top);
    }
    if (o.legend) {
      const L = o.legend;
      ctx.strokeStyle = '#333';
      ctx.lineWidth = 1;
      ctx.strokeRect(L.box[0] - ox + 0.5, L.box[1] - oy + 0.5, L.box[2], L.box[3]);
      L.rows.forEach(r => {
        const d = chart.data.datasets[r.ds];
        ctx.strokeStyle = d.borderColor;
        ctx.lineWidth = 1.5;
        ctx.beginPath();
        ctx.moveTo(L.line[0] - ox, r.y - oy);
        ctx.lineTo(L.line[1] - ox, r.y - oy);
        ctx.stroke();
        ctx.fillStyle = '#111';
        ctx.font = L.size + 'px ' + FONT;
        ctx.textAlign = 'left';
        ctx.textBaseline = 'middle';
        ctx.fillText(d.label, r.x - ox, r.y - oy);
      });
    }
    (o.texts || []).forEach(t => {
      ctx.save();
      ctx.font = (t.w || 'normal') + ' ' + t.s + 'px ' + FONT;
      ctx.fillStyle = t.c || '#1e1e1e';
      if ('letterSpacing' in ctx) ctx.letterSpacing = (t.sp || 0) + 'px';
      ctx.textAlign = 'center';
      ctx.textBaseline = t.bl ? 'alphabetic' : 'middle';
      ctx.translate(t.x - ox + (t.r ? 0 : (t.sp || 0) / 2), t.y - oy + (t.r ? (t.sp || 0) / 2 : 0));
      if (t.r) ctx.rotate(-Math.PI / 2);
      ctx.fillText(t.t, 0, 0);
      ctx.restore();
    });
    ctx.restore();
  }
};
Chart.register(deco);

function mount(box, cls) {
  const d = document.createElement('div');
  d.className = 'pan ' + cls;
  d.style.cssText = `left:${box[0]}px;top:${box[1]}px;width:${box[2]}px;height:${box[3]}px`;
  document.body.appendChild(d);
  const cb = [box[0] + 2, box[1] + 2, box[2] - 4, box[3] - 4];
  const cv = document.createElement('canvas');
  cv.width = cb[2];
  cv.height = cb[3];
  cv.style.left = cb[0] + 'px';
  cv.style.top = cb[1] + 'px';
  document.body.appendChild(cv);
  return {cv, cb};
}

function padFor(cb, area, mid) {
  return {
    left: area[0] - cb[0] - YW,
    top: area[1] - cb[1],
    right: cb[0] + cb[2] - area[2],
    bottom: cb[1] + cb[3] - area[3] - (mid ? 0 : XH)
  };
}

function dosChart(box, area, series, o) {
  const {cv, cb} = mount(box, 'lav');
  const datasets = series.map(s => ({
    label: s.label, data: s.data, showLine: true, borderColor: s.color,
    borderWidth: s.width || 1.4, borderDash: s.dash || [], pointRadius: 0, tension: 0
  }));
  return new Chart(cv, {
    type: 'scatter',
    data: {datasets},
    options: {
      responsive: false, animation: false, devicePixelRatio: 1, events: [],
      layout: {padding: padFor(cb, area, o.mid)},
      plugins: {
        legend: {display: false}, tooltip: {enabled: false},
        deco: {ox: cb[0], oy: cb[1], texts: o.texts, legend: o.legend}
      },
      scales: {
        x: {
          type: 'linear', min: -10, max: 8, position: o.mid ? {y: 0} : 'bottom',
          afterFit: s => { if (!o.mid) s.height = XH; },
          ticks: {stepSize: 2, autoSkip: false, maxRotation: 0, padding: o.xp, color: o.xc,
            font: {size: o.xs}, callback: v => (v % 4 === 0 ? String(v) : '')},
          grid: {drawOnChartArea: false, tickLength: 3, color: '#555'},
          border: {color: '#444', width: 1}
        },
        y: {
          type: 'linear', min: o.ymin, max: 0.6,
          afterFit: s => { s.width = YW; },
          ticks: {stepSize: 0.1, autoSkip: false, padding: o.yp, color: o.yc,
            font: {size: o.ys}, callback: v => (Math.round(v * 10) % 2 === 0 ? v.toFixed(1) : '')},
          grid: {drawOnChartArea: false, tickLength: 3, color: '#555'},
          border: {color: '#444', width: 1}
        }
      }
    }
  });
}

function bandChart(box, area, b, o) {
  const {cv, cb} = mount(box, 'blu');
  const line = (data, color, dash, width, smooth) => ({
    data, showLine: true, borderColor: color, borderDash: dash, borderWidth: width,
    pointRadius: 0, tension: 0, cubicInterpolationMode: smooth ? 'monotone' : 'default'
  });
  const dots = (data, color, r) => ({
    data, showLine: false, pointRadius: r, pointBackgroundColor: color,
    pointBorderColor: color, pointBorderWidth: 0
  });
  const ds = [];
  symK.forEach(k => ds.push(line([[k, -3], [k, 3]], '#b8b8b8', [1, 2], 0.8, false)));
  ds.push(line([[0, 0], [5, 0]], '#b8b8b8', [1, 2], 0.8, false));
  b.gray.forEach(p => ds.push(line(p, '#9e9e9e', [], 0.9, true)));
  b.dot.forEach(p => ds.push(line(p, '#2b2b2b', [1.2, 1.6], 1.1, true)));
  if (b.blueSmall) ds.push(dots(b.blueSmall, BLUE, 2.8));
  ds.push(dots(b.blue, BLUE, o.r));
  if (b.red) ds.push(dots(b.red, RED, o.r));
  const axisGrid = {display: true, drawOnChartArea: false, drawTicks: true, tickLength: 4, color: '#444', lineWidth: 1};
  return new Chart(cv, {
    type: 'scatter',
    data: {datasets: ds},
    options: {
      responsive: false, animation: false, devicePixelRatio: 1, events: [],
      layout: {padding: padFor(cb, area, false)},
      plugins: {
        legend: {display: false}, tooltip: {enabled: false},
        deco: {ox: cb[0], oy: cb[1], texts: o.texts, frame: true}
      },
      scales: {
        x: {
          type: 'linear', min: 0, max: 5,
          afterFit: s => { s.height = XH; },
          ticks: {stepSize: 1, autoSkip: false, maxRotation: 0, padding: o.xp, color: o.xc,
            font: {size: o.xs, weight: o.xw}, callback: v => kLabels[v]},
          grid: axisGrid, border: {display: false}
        },
        y: {
          type: 'linear', min: -3, max: 3,
          afterFit: s => { s.width = YW; },
          ticks: {stepSize: 1, padding: 1, color: '#222', font: {size: 12, weight: 'bold'}},
          grid: axisGrid, border: {display: false}
        }
      }
    }
  });
}

// ---- panels ----
dosChart([1, 1, 308, 283], [54, 32, 291, 249], [
  {label: 'Up', data: gapUp, color: '#000'},
  {label: 'Down', data: gapDown, color: '#ff1a1a'},
  {data: gapFermi, color: '#333', dash: [1, 2], width: 1}
], {
  mid: true, ymin: -0.6, xs: 14, xc: '#555', xp: 2, ys: 8, yc: '#777', yp: 2,
  legend: {box: [232, 49, 65, 38], line: [235, 257], size: 13, rows: [{ds: 0, x: 262, y: 60}, {ds: 1, x: 262, y: 78}]},
  texts: [
    {t: 'Silicene@GaP(111)', x: 181, y: 25, s: 18, sp: 3.8},
    {t: 'DOS(states/eV)', x: 21, y: 141, s: 15, sp: 4, r: 1, c: '#333'},
    {t: 'Energy (eV)', x: 199, y: 265, s: 15, sp: 2, c: '#333'},
    {t: 'a', x: 27, y: 272, s: 29, bl: 1, c: '#111'}
  ]
});

bandChart([311, 0, 306, 285], [355, 41, 594, 245], {gray: gapGray, dot: gapDot, blue: gapBlue, red: gapRed}, {
  r: 5, xs: 12, xw: 'bold', xc: '#222', xp: 2,
  texts: [
    {t: 'Silicene @ Ga P (111)', x: 478, y: 28, s: 18},
    {t: 'Energy (eV)', x: 335, y: 143, s: 15, r: 1},
    {t: 'K-POINTS', x: 469, y: 269, s: 12, w: 'bold', c: '#333'}
  ]
});

dosChart([618, 1, 307, 283], [675, 38, 915, 238], [
  {label: 'Si_total', data: gasTotal, color: '#000'}
], {
  mid: false, ymin: 0, xs: 14, xc: '#444', xp: 4, ys: 9, yc: '#888', yp: 5,
  legend: {box: [804, 65, 96, 18], line: [808, 835], size: 17, rows: [{ds: 0, x: 838, y: 74}]},
  texts: [
    {t: 'Silicene@GaAs(111)', x: 791, y: 25, s: 18, sp: 3.4},
    {t: 'DOS(states/eV)', x: 634, y: 143, s: 16, sp: 4.8, r: 1, c: '#333'},
    {t: 'Energy(eV)', x: 805, y: 267, s: 16, sp: 4.5, c: '#333'},
    {t: 'b', x: 644, y: 272, s: 34, bl: 1, c: '#111'}
  ]
});

bandChart([926, 0, 306, 285], [969, 38, 1203, 243], {gray: gasGray, dot: gasDot, blue: gasBlue, blueSmall: gasBlueSmall}, {
  r: 5.5, xs: 11, xw: 'bold', xc: '#333', xp: 5,
  texts: [
    {t: 'Silicene @ Ga As (111)', x: 1081, y: 25, s: 18},
    {t: 'Energy (eV)', x: 943, y: 147, s: 16, r: 1},
    {t: 'KPOINTS', x: 1085, y: 272, s: 11, w: 'bold', c: '#333'}
  ]
});

dosChart([1, 285, 308, 277], [63, 316, 288, 518], [
  {label: 'Si_total', data: znsTotal, color: '#000'}
], {
  mid: false, ymin: 0, xs: 14, xc: '#444', xp: 2, ys: 14, yc: '#444', yp: 7,
  legend: {box: [200, 355, 86, 18], line: [202, 218], size: 17, rows: [{ds: 0, x: 220, y: 364}]},
  texts: [
    {t: 'Silicene@ZnS(111)', x: 180, y: 313, s: 18, sp: 3.5},
    {t: 'DOS(states/eV)', x: 28, y: 420, s: 17, sp: 4.8, r: 1, c: '#333'},
    {t: 'Energy(eV)', x: 183, y: 544, s: 16, sp: 3.2, c: '#333'},
    {t: 'c', x: 16, y: 546, s: 26, bl: 1, c: '#111'}
  ]
});

bandChart([311, 284, 306, 278], [358, 319, 595, 517], {gray: znsGray, dot: znsDot, blue: znsBlue}, {
  r: 5, xs: 11, xw: 'normal', xc: '#555', xp: 6,
  texts: [
    {t: 'Silicene @ Zn S (111)', x: 468, y: 305, s: 18},
    {t: 'Energy (eV)', x: 332, y: 416, s: 16, r: 1},
    {t: 'K-POINTS', x: 462, y: 546, s: 16}
  ]
});

dosChart([618, 285, 307, 277], [674, 325, 903, 539], [
  {label: 'Up', data: zseUp, color: '#000'},
  {label: 'Down', data: zseDown, color: '#ff1a1a'},
  {data: zseFermi, color: '#333', dash: [1, 2], width: 1}
], {
  mid: true, ymin: -0.6, xs: 15, xc: '#444', xp: 2, ys: 9, yc: '#888', yp: 4,
  legend: {box: [845, 341, 60, 36], line: [847, 865], size: 13, rows: [{ds: 0, x: 868, y: 351}, {ds: 1, x: 870, y: 370}]},
  texts: [
    {t: 'Silicene@Zn Se(111)', x: 796, y: 310, s: 18, sp: 3.0},
    {t: 'DOS(states/eV)', x: 627, y: 433, s: 14, sp: 4.9, r: 1, c: '#333'},
    {t: 'Energy (eV)', x: 793, y: 540, s: 14, c: '#333'},
    {t: 'd', x: 640, y: 556, s: 34, bl: 1, c: '#111'}
  ]
});

bandChart([926, 284, 306, 278], [978, 317, 1209, 516], {gray: zseGray, dot: zseDot, blue: zseBlue, red: zseRed}, {
  r: 5, xs: 11, xw: 'bold', xc: '#333', xp: 5,
  texts: [
    {t: 'Silicene @ Zn Se (111)', x: 1098, y: 303, s: 18},
    {t: 'Energy (eV)', x: 950, y: 423, s: 16, r: 1},
    {t: 'K-POINTS', x: 1091, y: 546, s: 16}
  ]
});
</script>
</body>
</html>
